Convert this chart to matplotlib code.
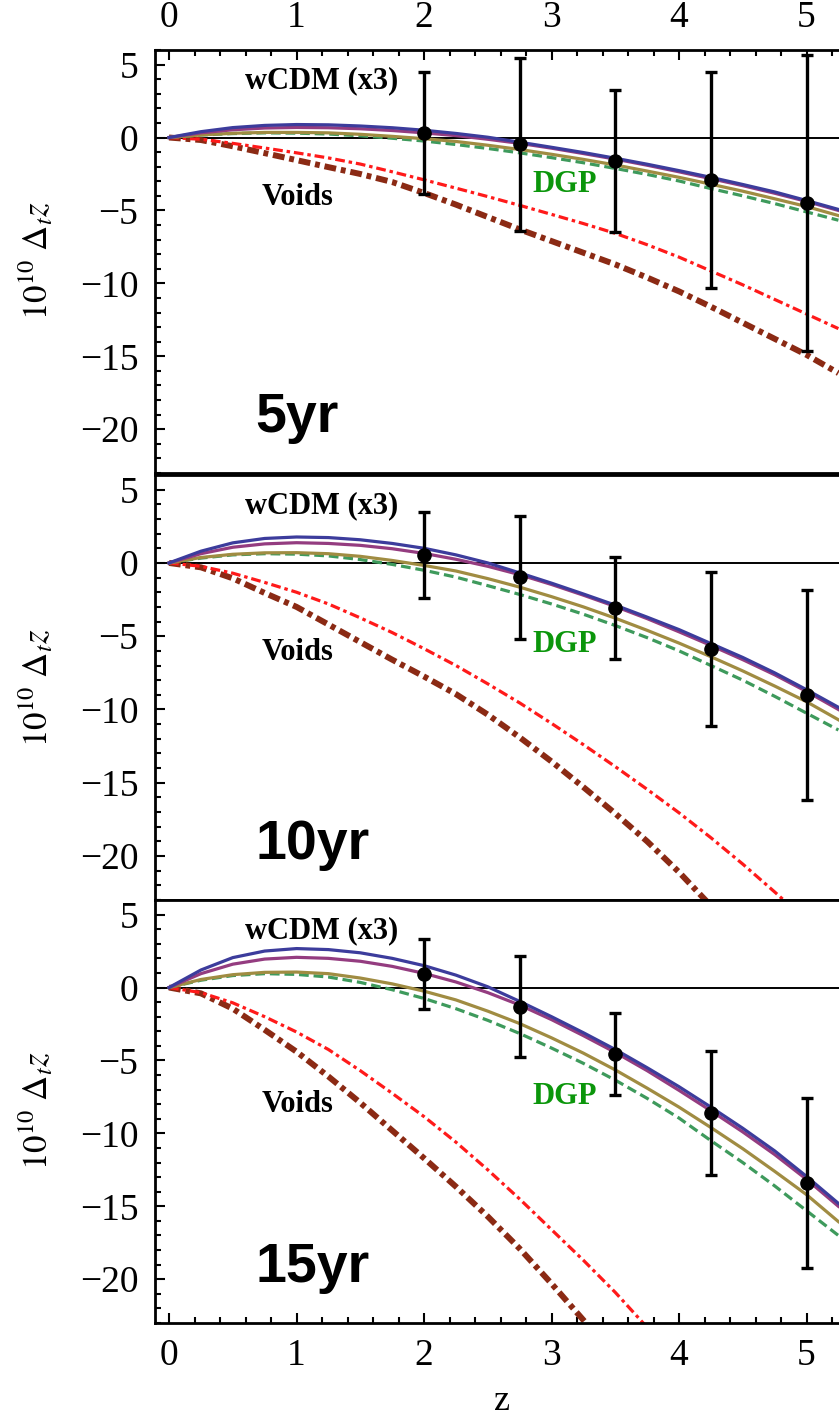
import matplotlib
matplotlib.use("Agg")
import matplotlib.pyplot as plt
from matplotlib.ticker import MultipleLocator

plt.rcParams['font.family'] = ['Liberation Serif', 'DejaVu Serif']
plt.rcParams['mathtext.fontset'] = 'stix'
plt.rcParams['lines.scale_dashes'] = False

# redshift grid of the model curves
z = [0.0, 0.25, 0.5, 0.75, 1.0, 1.25, 1.5, 1.75, 2.0, 2.25, 2.5,
     2.75, 3.0, 3.25, 3.5, 3.75, 4.0, 4.25, 4.5, 4.75, 5.0, 5.25]

# 5 yr
blue_5 = [0, 0.4, 0.68, 0.83, 0.89, 0.87, 0.79, 0.67, 0.5, 0.28, 0.02,
          -0.32, -0.67, -1.03, -1.42, -1.83, -2.27, -2.73, -3.22, -3.73, -4.32, -4.93]
purple_5 = [0, 0.32, 0.53, 0.65, 0.69, 0.67, 0.6, 0.48, 0.32, 0.13, -0.12,
            -0.4, -0.73, -1.1, -1.48, -1.9, -2.35, -2.82, -3.3, -3.82, -4.38, -5.0]
olive_5 = [0, 0.18, 0.29, 0.35, 0.35, 0.32, 0.22, 0.08, -0.08, -0.27, -0.53,
           -0.82, -1.15, -1.5, -1.88, -2.3, -2.73, -3.2, -3.68, -4.2, -4.73, -5.35]
dgp_5 = [0, 0.17, 0.27, 0.32, 0.3, 0.24, 0.12, -0.05, -0.24, -0.48, -0.75,
         -1.05, -1.38, -1.73, -2.12, -2.53, -2.98, -3.5, -4.0, -4.53, -5.1, -5.67]
void1_5 = [0, -0.12, -0.4, -0.72, -1.05, -1.4, -1.82, -2.35, -2.9, -3.47, -4.05,
           -4.65, -5.27, -5.9, -6.57, -7.35, -8.2, -9.15, -10.1, -11.1, -12.1, -13.1]
void2_5 = [0, -0.17, -0.6, -1.07, -1.55, -2.03, -2.5, -3.05, -3.8, -4.6, -5.45,
           -6.3, -7.1, -7.9, -8.7, -9.6, -10.55, -11.6, -12.7, -13.8, -14.9, -16.15]

# 10 yr
blue_10 = [0, 0.8, 1.37, 1.67, 1.77, 1.73, 1.58, 1.33, 1.0, 0.55, 0.0,
           -0.68, -1.38, -2.12, -2.88, -3.7, -4.55, -5.5, -6.45, -7.5, -8.65, -9.85]
purple_10 = [0, 0.63, 1.07, 1.3, 1.38, 1.33, 1.2, 0.97, 0.65, 0.25, -0.23,
             -0.8, -1.47, -2.2, -2.97, -3.8, -4.7, -5.63, -6.6, -7.63, -8.77, -10.0]
olive_10 = [0, 0.37, 0.59, 0.69, 0.7, 0.63, 0.45, 0.17, -0.17, -0.55, -1.07,
            -1.65, -2.3, -3.0, -3.77, -4.6, -5.47, -6.4, -7.37, -8.4, -9.47, -10.7]
dgp_10 = [0, 0.33, 0.55, 0.63, 0.6, 0.48, 0.23, -0.1, -0.5, -0.97, -1.55,
          -2.15, -2.8, -3.5, -4.27, -5.1, -6.0, -7.0, -8.0, -9.1, -10.25, -11.4]
void1_10 = [0, -0.23, -0.7, -1.33, -2.0, -2.8, -3.75, -4.75, -5.85, -7.0, -8.25,
            -9.55, -10.95, -12.4, -13.9, -15.45, -17.05, -18.75, -20.55, -22.45, -24.4]
void2_10 = [0, -0.3, -1.05, -2.05, -3.0, -4.2, -5.4, -6.6, -7.75, -8.95, -10.35,
            -11.9, -13.55, -15.3, -17.1, -19.0, -21.1, -23.4]

# 15 yr
blue_15 = [0, 1.2, 2.05, 2.5, 2.67, 2.6, 2.38, 2.0, 1.5, 0.85, 0.05,
           -0.95, -2.0, -3.1, -4.25, -5.5, -6.8, -8.2, -9.65, -11.2, -12.95, -14.8]
purple_15 = [0, 0.95, 1.6, 1.95, 2.07, 2.0, 1.8, 1.45, 0.97, 0.38, -0.35,
             -1.2, -2.2, -3.3, -4.45, -5.7, -7.05, -8.45, -9.9, -11.45, -13.15, -15.0]
olive_15 = [0, 0.55, 0.88, 1.04, 1.06, 0.95, 0.65, 0.25, -0.25, -0.85, -1.62,
            -2.47, -3.45, -4.5, -5.65, -6.9, -8.2, -9.6, -11.05, -12.6, -14.2, -16.05]
dgp_15 = [0, 0.5, 0.82, 0.95, 0.9, 0.72, 0.35, -0.15, -0.75, -1.45, -2.25,
          -3.15, -4.15, -5.2, -6.35, -7.6, -8.95, -10.5, -12.0, -13.6, -15.3, -17.0]
void1_15 = [0, -0.35, -1.05, -2.0, -3.05, -4.25, -5.7, -7.25, -8.85, -10.6, -12.5,
            -14.5, -16.6, -18.7, -20.9, -23.3]
void2_15 = [0, -0.4, -1.45, -2.9, -4.4, -6.1, -7.9, -9.8, -11.7, -13.65, -15.7,
            -17.9, -20.3, -22.8, -25.4]

# simulated measurements
z_obs = [2.0, 2.75, 3.5, 4.25, 5.0]
obs_5 = [0.3, -0.47, -1.59, -2.92, -4.52]
err_5 = [4.18, 5.93, 4.87, 7.4, 10.15]
obs_10 = [0.57, -0.98, -3.1, -5.85, -9.02]
err_10 = [2.93, 4.2, 3.48, 5.25, 7.15]
obs_15 = [0.96, -1.32, -4.57, -8.63, -13.42]
err_15 = [2.4, 3.45, 2.8, 4.25, 5.83]

years = ['5yr', '10yr', '15yr']
voids_y = [-4.1, -6.1, -8.05]
dgp_y = [-3.2, -5.55, -7.5]

panels = [
    (blue_5, purple_5, olive_5, dgp_5, void1_5, void2_5, obs_5, err_5),
    (blue_10, purple_10, olive_10, dgp_10, void1_10, void2_10, obs_10, err_10),
    (blue_15, purple_15, olive_15, dgp_15, void1_15, void2_15, obs_15, err_15),
]

W, H = 839, 1415
fig = plt.figure(figsize=(W / 100, H / 100), dpi=100)
boxes = [(50, 473), (475, 900), (900, 1323)]  # top, bottom in pixels
left = 155 / W
width = (5.35 + 0.11) * 127.5 / W

for i, (bl, pu, ol, dg, v1, v2, obs, err) in enumerate(panels):
    top, bot = boxes[i]
    ax = fig.add_axes([left, 1 - bot / H, width, (bot - top) / H])
    ax.set_xlim(-0.11, 5.35)
    ax.set_ylim(-23, 6)

    ax.axhline(0, color='k', lw=1.4, zorder=1)
    ax.plot(z[:len(v2)], v2, color='#8b2a14', lw=4.3,
            linestyle=(0, (8.5, 3.5, 3.5, 3.5)), zorder=2)
    ax.plot(z[:len(v1)], v1, color='#ff1a1a', lw=2.3,
            linestyle=(0, (7, 2.8, 2.5, 2.8)), zorder=2)
    ax.plot(z, dg, color='#3e9a5c', lw=2.3, linestyle=(0, (7, 3.5)), zorder=3)
    ax.plot(z, ol, color='#a08c42', lw=2.3, zorder=3)
    ax.plot(z, pu, color='#943c80', lw=2.3, zorder=3)
    ax.plot(z, bl, color='#3c3c9c', lw=2.3, zorder=4)
    ax.errorbar(z_obs, obs, yerr=err, fmt='o', color='k', ms=9.5,
                elinewidth=2.4, capsize=4, capthick=2.4, zorder=6)

    ax.text(1.2, 3.9, 'wCDM (x3)', fontsize=22, fontweight='bold',
            ha='center', va='center')
    ax.text(1.01, voids_y[i], 'Voids', fontsize=22, fontweight='bold',
            ha='center', va='center')
    ax.text(3.1, dgp_y[i], 'DGP', fontsize=22, fontweight='bold',
            color='#0b960b', ha='center', va='center')
    ax.text(0.68, -20.2, years[i], fontsize=40, fontweight='bold',
            family='Liberation Sans', ha='left', va='baseline')

    ax.yaxis.set_major_locator(MultipleLocator(5))
    ax.yaxis.set_minor_locator(MultipleLocator(1))
    ax.xaxis.set_major_locator(MultipleLocator(1))
    ax.xaxis.set_minor_locator(MultipleLocator(0.2))
    ax.tick_params(axis='y', which='both', direction='in', left=True,
                   right=False, labelsize=27, pad=12, width=1.5)
    ax.tick_params(axis='y', which='major', length=7)
    ax.tick_params(axis='y', which='minor', length=4)
    ax.tick_params(axis='x', which='both', direction='in', labelsize=27,
                   top=(i == 0), bottom=(i == 2), labeltop=(i == 0),
                   labelbottom=(i == 2), width=1.5, pad=11)
    ax.tick_params(axis='x', which='major', length=7)
    ax.tick_params(axis='x', which='minor', length=4)
    for s in ax.spines.values():
        s.set_linewidth(2)

fig.text(37 / W, 1 - 261 / H, r'$10^{10}\ \Delta_t z$', fontsize=25,
         rotation=90, ha='center', va='center')
fig.text(37 / W, 1 - 688 / H, r'$10^{10}\ \Delta_t z$', fontsize=25,
         rotation=90, ha='center', va='center')
fig.text(37 / W, 1 - 1111 / H, r'$10^{10}\ \Delta_t z$', fontsize=25,
         rotation=90, ha='center', va='center')
fig.text(502 / W, 1 - 1401 / H, 'z', fontsize=26, ha='center', va='center')

fig.savefig('out.png', dpi=100)
